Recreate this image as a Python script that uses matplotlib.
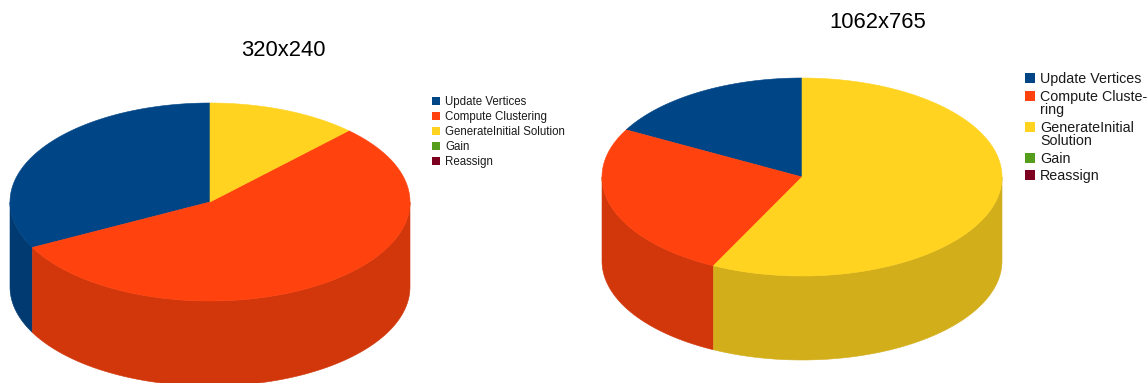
import numpy as np
import matplotlib.pyplot as plt
from matplotlib.patches import Polygon, Rectangle

# --- DATA ---
categories = ["Update Vertices", "Compute Clustering", "GenerateInitial Solution", "Gain", "Reassign"]
labels_wrapped = ["Update Vertices", "Compute Cluste-\nring", "GenerateInitial\nSolution", "Gain", "Reassign"]
share_320 = [32.6, 55.2, 12.2, 0.0, 0.0]     # % du temps, 320x240
share_1062 = [17.1, 25.6, 57.3, 0.0, 0.0]    # % du temps, 1062x765
titles = ["320x240", "1062x765"]

colors = ["#004586", "#ff420e", "#ffd320", "#579d1c", "#7e0021"]
side_colors = ["#003a70", "#d1370b", "#d3ae1b", "#48821a", "#68001b"]

W, H = 1147, 383
fig = plt.figure(figsize=(W / 100, H / 100), dpi=100)
ax = fig.add_axes([0, 0, 1, 1])
ax.set_xlim(0, W)
ax.set_ylim(H, 0)
ax.axis("off")


def pie3d(ax, values, cx, cy, rx, ry, depth):
    vals = np.array(values, dtype=float)
    angles = 90 + np.concatenate([[0], np.cumsum(vals / vals.sum() * 360)])

    # faces laterales (seulement la moitie avant, 180-360 deg)
    for i in range(len(vals)):
        a0, a1 = angles[i], angles[i + 1]
        if a1 - a0 <= 0:
            continue
        for k in (0, 1):
            lo = max(a0, 180 + 360 * k)
            hi = min(a1, 360 + 360 * k)
            if hi <= lo:
                continue
            t = np.radians(np.linspace(lo, hi, 100))
            x = cx + rx * np.cos(t)
            y = cy - ry * np.sin(t)
            pts = np.column_stack([np.r_[x, x[::-1]], np.r_[y, y[::-1] + depth]])
            ax.add_patch(Polygon(pts, closed=True, facecolor=side_colors[i],
                                 edgecolor=side_colors[i], lw=0.4))

    # dessus
    for i in range(len(vals)):
        a0, a1 = angles[i], angles[i + 1]
        if a1 - a0 <= 0:
            continue
        t = np.radians(np.linspace(a0, a1, 200))
        x = np.r_[cx, cx + rx * np.cos(t)]
        y = np.r_[cy, cy - ry * np.sin(t)]
        ax.add_patch(Polygon(np.column_stack([x, y]), closed=True,
                             facecolor=colors[i], edgecolor=colors[i], lw=0.4))


def legend(ax, labels, x0, y0, box, fs, step, line_h):
    y = y0
    for i, lab in enumerate(labels):
        ax.add_patch(Rectangle((x0, y - box / 2), box, box, facecolor=colors[i], lw=0))
        ax.text(x0 + box + 5, y - line_h / 2 + 1, lab, fontsize=fs, family="Liberation Sans",
                va="top", ha="left", linespacing=0.95, color="#1a1a1a")
        y += step + line_h * (lab.count("\n"))


pie3d(ax, share_320, 210, 202, 200, 99, 85)
pie3d(ax, share_1062, 802, 177, 200, 99, 84)

ax.text(283, 50, titles[0], fontsize=15.8, family="Liberation Sans", ha="center", va="center")
ax.text(878, 22, titles[1], fontsize=15.8, family="Liberation Sans", ha="center", va="center")

legend(ax, categories, 432, 101, 8, 8.3, 15, 12)
legend(ax, labels_wrapped, 1025, 78, 10, 10.3, 17.5, 13.5)

fig.savefig("out.png", dpi=100)
